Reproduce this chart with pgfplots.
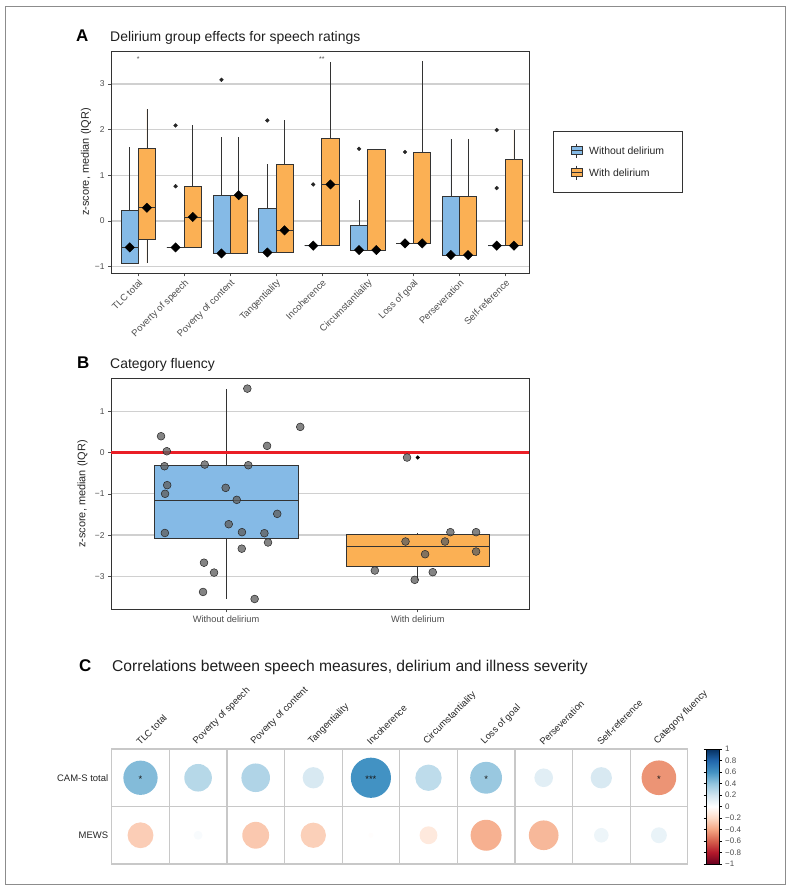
\documentclass[border=0pt]{standalone}
\usepackage{fontspec}
\setmainfont{Liberation Sans}
\usepackage{pgfplots}
\pgfplotsset{compat=1.18}
\usepgfplotslibrary{statistics}
\usepackage{pgfplotstable}

\definecolor{bluefill}{RGB}{133,186,230}
\definecolor{orangefill}{RGB}{251,176,84}
\definecolor{edge}{RGB}{51,51,51}
\definecolor{gridc}{RGB}{208,208,208}
\definecolor{txt}{RGB}{77,77,77}
\definecolor{cgrid}{RGB}{200,200,200}
\definecolor{redline}{RGB}{234,30,38}

\newcommand{\fs}[1]{\fontsize{#1}{#1}\selectfont}
% box: fill, position, lower whisker, lower quartile, median, upper quartile, upper whisker
\newcommand{\bx}[7]{\addplot[draw=edge, line width=0.7bp, fill=#1,
  boxplot prepared={draw position=#2, lower whisker=#3, lower quartile=#4,
  median=#5, upper quartile=#6, upper whisker=#7}] coordinates {};}

\pgfplotsset{colormap={RdBu}{rgb255=(103,0,31) rgb255=(178,24,43) rgb255=(214,96,77)
  rgb255=(244,165,130) rgb255=(253,219,199) rgb255=(255,255,255) rgb255=(209,229,240)
  rgb255=(146,197,222) rgb255=(67,147,195) rgb255=(33,102,172) rgb255=(5,48,97)}}

\pgfplotstableread{
x y
0.661 0.396
0.691 0.032
0.679 -0.331
0.693 -0.79
0.682 -1.00
0.681 -1.95
0.889 -0.291
0.885 -2.67
0.9375 -2.91
0.880 -3.38
0.998 -0.856
1.014 -1.737
1.056 -1.147
1.083 -1.93
1.082 -2.33
1.111 1.55
1.116 -0.307
1.149 -3.55
1.214 0.162
1.200 -1.955
1.219 -2.18
1.267 -1.486
1.387 0.622
1.944 -0.121
1.776 -2.86
1.936 -2.157
1.984 -3.086
2.038 -2.464
2.078 -2.90
2.142 -2.157
2.170 -1.93
2.304 -1.93
2.304 -2.40
}\fluency

\pgfplotstableread{
x y r
1 2 0.44
2 2 0.285
3 2 0.306
4 2 0.17
5 2 0.605
6 2 0.26
7 2 0.38
8 2 0.13
9 2 0.17
10 2 -0.45
1 1 -0.25
2 1 0.03
3 1 -0.27
4 1 -0.24
5 1 -0.01
6 1 -0.12
7 1 -0.36
8 1 -0.33
9 1 0.08
10 1 0.095
}\corrdata

\begin{document}
\begin{tikzpicture}
\useasboundingbox (0,0) rectangle (791bp,-892bp);
\draw[black!45, line width=0.9bp] (5bp,-6bp) rectangle (785bp,-884bp);

% titles
\node[anchor=base west, inner sep=0pt, font=\bfseries\fs{17}] at (76bp,-41bp) {A};
\node[anchor=base west, inner sep=0pt, font=\fs{14}, text=black!88] at (110bp,-41bp) {Delirium group effects for speech ratings};
\node[anchor=base west, inner sep=0pt, font=\bfseries\fs{17}] at (77bp,-368.3bp) {B};
\node[anchor=base west, inner sep=0pt, font=\fs{14}, text=black!88] at (110bp,-368.3bp) {Category fluency};
\node[anchor=base west, inner sep=0pt, font=\bfseries\fs{17}] at (79bp,-671bp) {C};
\node[anchor=base west, inner sep=0pt, font=\fs{15.7}, text=black!88] at (112bp,-671bp) {Correlations between speech measures, delirium and illness severity};

% y labels
\node[rotate=90, font=\fs{11}, text=black!85] at (86bp,-162bp) {z-score, median (IQR)};
\node[rotate=90, font=\fs{11}, text=black!85] at (82.5bp,-494bp) {z-score, median (IQR)};

% ---------------- Panel A ----------------
\begin{axis}[at={(111bp,-51bp)}, anchor=north west, scale only axis,
  width=418bp, height=222.3bp,
  xmin=0.405, xmax=9.516, ymin=-1.145, ymax=3.72,
  xtick={1,...,9},
  xticklabels={TLC total, Poverty of speech, Poverty of content, Tangentiality, Incoherence, Circumstantiality, Loss of goal, Perseveration, Self-reference},
  xticklabel style={rotate=45, anchor=north east, font=\fs{9.5}, text=txt, inner sep=1.5bp},
  ytick={-1,0,1,2,3}, yticklabels={−1,0,1,2,3},
  yticklabel style={font=\fs{8.5}, text=txt},
  ymajorgrids, grid style={gridc, line width=1.2bp},
  axis line style={edge, line width=0.8bp},
  tick align=outside, tick pos=left, major tick length=3bp,
  tick style={txt, line width=0.6bp},
  boxplot/draw direction=y, boxplot/box extend=0.375, boxplot/whisker extend=0,
  boxplot/every median/.style={line width=0.8bp},
]
\bx{bluefill}{0.8125}{-0.93}{-0.93}{-0.578}{0.234}{1.62}
\bx{orangefill}{1.1875}{-0.93}{-0.40}{0.29}{1.58}{2.44}
\bx{bluefill}{1.8125}{-0.578}{-0.578}{-0.578}{-0.578}{-0.578}
\bx{orangefill}{2.1875}{-0.578}{-0.578}{0.088}{0.76}{2.09}
\bx{bluefill}{2.8125}{-0.71}{-0.71}{-0.71}{0.57}{1.83}
\bx{orangefill}{3.1875}{-0.71}{-0.71}{0.565}{0.57}{1.83}
\bx{bluefill}{3.8125}{-0.69}{-0.69}{-0.69}{0.28}{1.24}
\bx{orangefill}{4.1875}{-0.69}{-0.69}{-0.205}{1.24}{2.2}
\bx{bluefill}{4.8125}{-0.54}{-0.54}{-0.54}{-0.54}{-0.54}
\bx{orangefill}{5.1875}{-0.54}{-0.54}{0.80}{1.81}{3.48}
\bx{bluefill}{5.8125}{-0.636}{-0.636}{-0.636}{-0.095}{0.46}
\bx{orangefill}{6.1875}{-0.636}{-0.636}{-0.636}{1.57}{1.57}
\bx{bluefill}{6.8125}{-0.49}{-0.49}{-0.49}{-0.49}{-0.49}
\bx{orangefill}{7.1875}{-0.49}{-0.49}{-0.49}{1.51}{3.51}
\bx{bluefill}{7.8125}{-0.745}{-0.745}{-0.745}{0.53}{1.80}
\bx{orangefill}{8.1875}{-0.745}{-0.745}{-0.745}{0.53}{1.80}
\bx{bluefill}{8.8125}{-0.54}{-0.54}{-0.54}{-0.54}{-0.54}
\bx{orangefill}{9.1875}{-0.54}{-0.54}{-0.54}{1.357}{1.99}
% outliers
\addplot[only marks, mark=*, mark size=1.9bp, black!85] coordinates {
 (1.8125,2.09) (1.8125,0.76) (2.8125,3.09) (3.8125,2.2) (4.8125,0.80)
 (5.8125,1.58) (6.8125,1.51) (8.8125,1.99) (8.8125,0.72)};
% medians (diamonds)
\addplot[only marks, mark=square*, mark size=3.3bp, mark options={rotate=45, fill=black, draw=black}] coordinates {
 (0.8125,-0.578) (1.1875,0.29) (1.8125,-0.578) (2.1875,0.088) (2.8125,-0.71) (3.1875,0.565)
 (3.8125,-0.69) (4.1875,-0.205) (4.8125,-0.54) (5.1875,0.80) (5.8125,-0.636) (6.1875,-0.636)
 (6.8125,-0.49) (7.1875,-0.49) (7.8125,-0.745) (8.1875,-0.745) (8.8125,-0.54) (9.1875,-0.54)};
\node[font=\fs{7}, text=txt] at (axis cs:1,3.55) {*};
\node[font=\fs{7}, text=txt] at (axis cs:5,3.55) {**};
\end{axis}

% legend A
\draw[edge, line width=0.7bp] (553.3bp,-131bp) rectangle (682.7bp,-192bp);
\draw[edge, line width=0.6bp] (576.3bp,-143.7bp) -- (576.3bp,-157.7bp);
\filldraw[fill=bluefill, draw=edge, line width=0.6bp] (571bp,-146.7bp) rectangle (582bp,-154.7bp);
\draw[edge, line width=0.6bp] (571bp,-150.7bp) -- (582bp,-150.7bp);
\draw[edge, line width=0.6bp] (576.3bp,-165.7bp) -- (576.3bp,-179.7bp);
\filldraw[fill=orangefill, draw=edge, line width=0.6bp] (571bp,-168.7bp) rectangle (582bp,-176.7bp);
\draw[edge, line width=0.6bp] (571bp,-172.7bp) -- (582bp,-172.7bp);
\node[anchor=west, inner sep=0pt, font=\fs{10.5}, text=black!85] at (589bp,-150.7bp) {Without delirium};
\node[anchor=west, inner sep=0pt, font=\fs{10.5}, text=black!85] at (589bp,-172.7bp) {With delirium};

% ---------------- Panel B ----------------
\begin{axis}[at={(111bp,-378.3bp)}, anchor=north west, scale only axis,
  width=418bp, height=231bp,
  xmin=0.4, xmax=2.58, ymin=-3.80, ymax=1.80,
  xtick={1,2}, xticklabels={Without delirium, With delirium},
  xticklabel style={font=\fs{9.3}, text=txt},
  ytick={-3,-2,-1,0,1}, yticklabels={−3,−2,−1,0,1},
  yticklabel style={font=\fs{8.5}, text=txt},
  ymajorgrids, grid style={gridc, line width=1.2bp},
  axis line style={edge, line width=0.8bp},
  tick align=outside, tick pos=left, major tick length=3bp,
  tick style={txt, line width=0.6bp},
  boxplot/draw direction=y, boxplot/box extend=0.75, boxplot/whisker extend=0,
  boxplot/every median/.style={line width=0.8bp},
]
\bx{bluefill}{1}{-3.554}{-2.076}{-1.155}{-0.315}{1.543}
\bx{orangefill}{2}{-3.086}{-2.76}{-2.278}{-1.987}{-1.94}
\addplot[redline, line width=3bp] coordinates {(0.4,0) (2.58,0)};
\addplot[only marks, mark=*, mark size=1.8bp, black] coordinates {(2,-0.12)};
\addplot[only marks, mark=*, mark size=3.9bp, mark options={draw=black!85, fill=black!62, fill opacity=0.78, line width=0.5bp}] table[x=x, y=y] {\fluency};
\end{axis}

% ---------------- Panel C ----------------
\begin{axis}[at={(111.7bp,-749bp)}, anchor=north west, scale only axis,
  width=576bp, height=115bp,
  xmin=0.5, xmax=10.5, ymin=0.5, ymax=2.5,
  xtick={1,...,10},
  xticklabels={TLC total, Poverty of speech, Poverty of content, Tangentiality, Incoherence, Circumstantiality, Loss of goal, Perseveration, Self-reference, Category fluency},
  xtick pos=upper, xticklabel pos=upper,
  xticklabel style={rotate=45, anchor=south west, font=\fs{9.5}, text=black!85, inner sep=2bp},
  ytick={1,2}, yticklabels={MEWS, CAM-S total},
  yticklabel style={font=\fs{9.5}, text=black!85},
  minor xtick={1.5,2.5,...,9.5}, minor ytick={1.5},
  xminorgrids, yminorgrids, minor grid style={cgrid, line width=1.2bp},
  axis line style={cgrid, line width=1.2bp},
  major tick length=0pt, minor tick length=0pt,
  colormap name=RdBu, point meta min=-1, point meta max=1,
  colorbar,
  colorbar style={at={(parent axis.north east)}, anchor=north west, xshift=10bp,
    width=13bp,
    ytick={-1,-0.8,-0.6,-0.4,-0.2,0,0.2,0.4,0.6,0.8,1},
    yticklabels={−1,−0.8,−0.6,−0.4,−0.2,0,0.2,0.4,0.6,0.8,1},
    yticklabel style={font=\fs{8}, text=txt},
    axis line style={black, line width=0.8bp},
    tick align=outside, major tick length=2.5bp, tick style={black, line width=0.5bp}},
]
\addplot[scatter, only marks, mark=*, point meta=explicit,
  scatter/use mapped color={draw=mapped color, fill=mapped color, draw opacity=0},
  visualization depends on={25.92*sqrt(abs(\thisrow{r})) \as \rad},
  scatter/@pre marker code/.append style={/tikz/mark size=\rad}]
  table[x=x, y=y, meta=r] {\corrdata};
\addplot[only marks, mark=none, point meta=explicit symbolic, nodes near coords,
  every node near coord/.append style={anchor=center, font=\fs{9.5}, text=black!90, yshift=-1.8bp}]
  coordinates {(1,2) [*] (5,2) [***] (7,2) [*] (10,2) [*]};
\end{axis}
\end{tikzpicture}
\end{document}
